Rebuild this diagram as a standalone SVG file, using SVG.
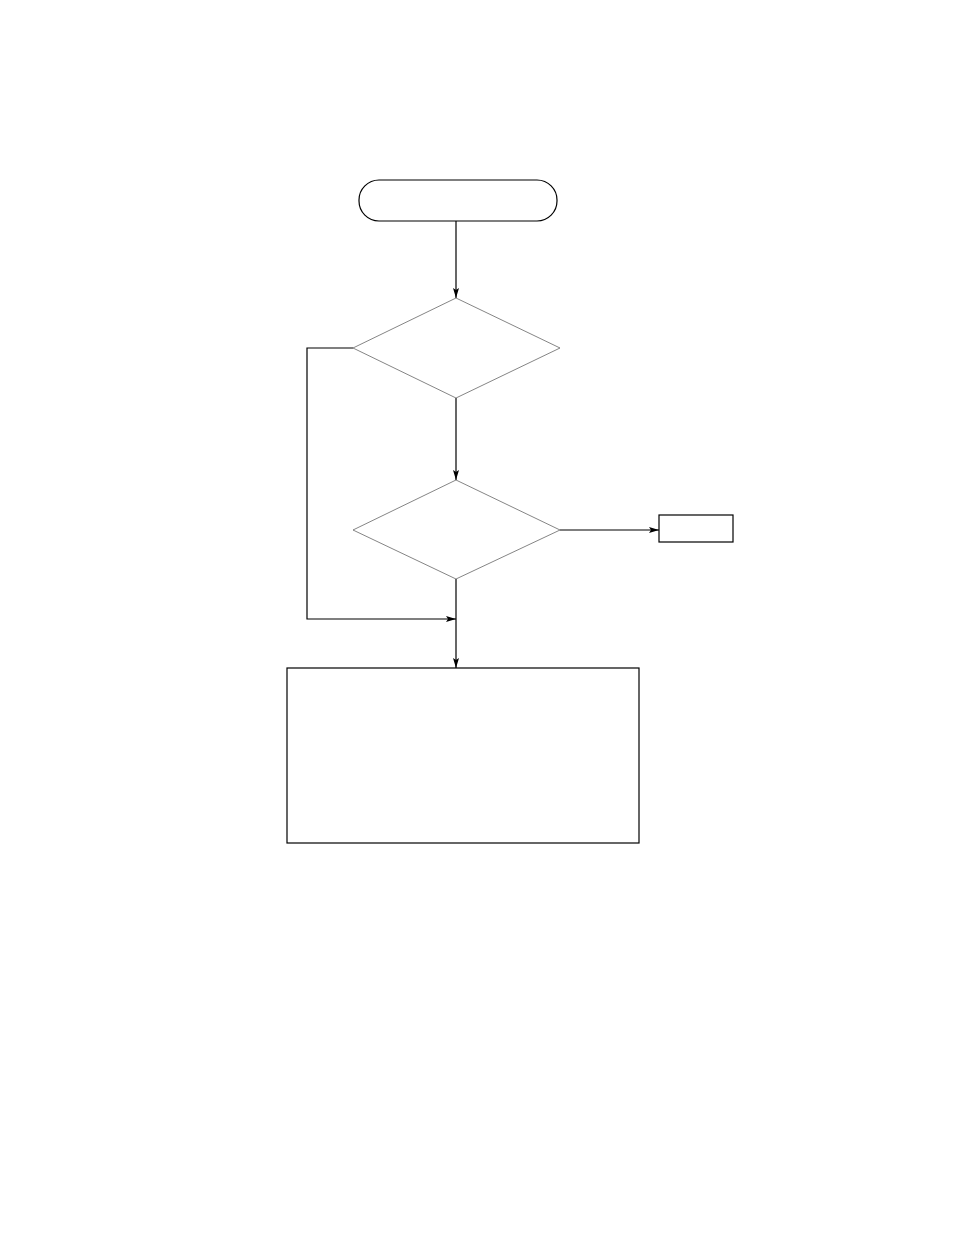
<svg xmlns="http://www.w3.org/2000/svg" width="954" height="1235" viewBox="0 0 954 1235">
<style>
.box{fill:#fff;stroke:#000;stroke-width:1.2}
.dia{fill:#fff;stroke:#666;stroke-width:0.8}
.ln{fill:none;stroke:#000;stroke-width:1.2}
</style>
<defs>
<marker id="arr" viewBox="0 0 10 6" refX="10" refY="3" markerWidth="10" markerHeight="6" markerUnits="userSpaceOnUse" orient="auto">
<path d="M0,0 L10,3 L0,6 L2,3 Z" fill="#000"/>
</marker>
</defs>
<rect width="954" height="1235" fill="#fff"/>
<g id="connectors">
<line class="ln" x1="456" y1="221" x2="456" y2="298" marker-end="url(#arr)"/>
<line class="ln" x1="456" y1="398" x2="456" y2="480" marker-end="url(#arr)"/>
<polyline class="ln" points="353,348 307,348 307,619 456,619" marker-end="url(#arr)"/>
<line class="ln" x1="560" y1="530" x2="659" y2="530" marker-end="url(#arr)"/>
<line class="ln" x1="456" y1="579" x2="456" y2="668" marker-end="url(#arr)"/>
</g>
<g id="start"><rect class="box" x="359" y="180" width="198" height="41" rx="20" ry="20"/></g>
<g id="decision1"><polygon class="dia" points="456,298 560,348 456,398 353,348"/></g>
<g id="decision2"><polygon class="dia" points="456,480 560,530 456,579 353,530"/></g>
<g id="side"><rect class="box" x="659" y="515" width="74" height="27"/></g>
<g id="process"><rect class="box" x="287" y="668" width="352" height="175"/></g>
</svg>
